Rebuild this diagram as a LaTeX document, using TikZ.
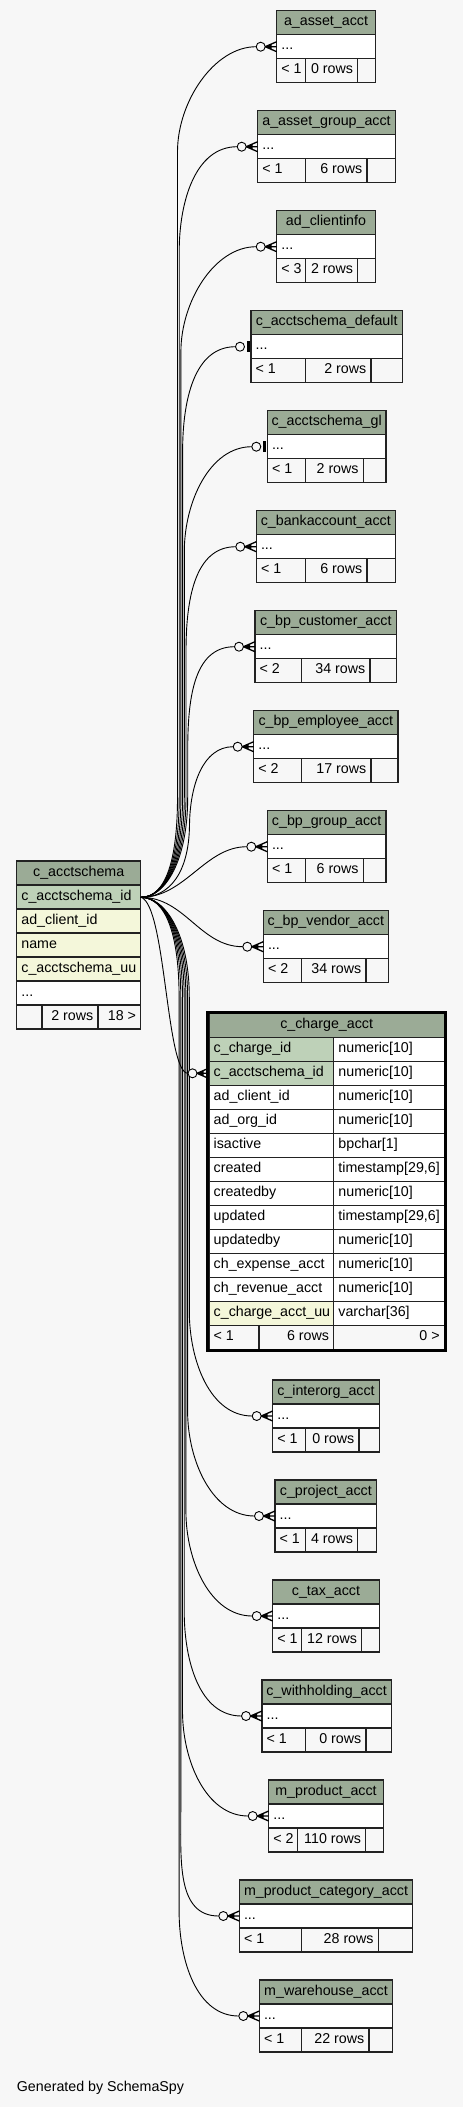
\documentclass[tikz,border=0pt]{standalone}
\usepackage{fontspec}
\setmainfont{Liberation Sans}
\usetikzlibrary{calc}
\definecolor{bgc}{HTML}{F7F7F7}
\definecolor{hdrc}{HTML}{9BAB96}
\definecolor{pkc}{HTML}{BED1B8}
\definecolor{idxc}{HTML}{F4F7DA}
\definecolor{linec}{HTML}{222222}
\newcommand\fs{\fontsize{14.25pt}{17pt}\selectfont}
\newcommand\tsz{timestamp[29,6]}
\tikzset{
 cellb/.style={draw=linec, line width=1.1pt},
 txt/.style={anchor=base west, inner sep=0pt, font=\fs},
 rtxt/.style={anchor=base east, inner sep=0pt, font=\fs},
 ttl/.style={anchor=base, inner sep=0pt, font=\fs},
 conn/.style={draw=black, line width=0.9pt},
 crowl/.style={draw=black, line width=1.3pt},
 thickb/.style={draw=black, line width=2.6pt},
}
% name, title, x1, x2, top, div1, div2, footer-left, rows
\newcommand\stab[9]{%
 \fill[hdrc] (#3,#5) rectangle (#4,{#5+24});
 \fill[white] (#3,{#5+24}) rectangle (#4,{#5+48});
 \fill[bgc] (#3,{#5+48}) rectangle (#4,{#5+72});
 \draw[cellb] (#3,#5) rectangle (#4,{#5+72});
 \draw[cellb] (#3,{#5+24}) -- (#4,{#5+24}) (#3,{#5+48}) -- (#4,{#5+48})
   (#6,{#5+48}) -- (#6,{#5+72}) (#7,{#5+48}) -- (#7,{#5+72});
 \node[ttl] (#1) at ({(#3+#4)/2},{#5+15.2}) {#2};
 \node[txt] (#1-r) at ({#3+4.5},{#5+39.2}) {...};
 \node[txt] (#1-f) at ({#3+4.5},{#5+63.2}) {#8};
 \node[rtxt] (#1-n) at ({#7-4.5},{#5+63.2}) {#9};
 \coordinate (#1-w) at (#3,{#5+36});
}
% name, xv, dir (-1 above, 1 below), end offset
\newcommand\fconn[4]{%
 \coordinate (#1-e) at ($(#1-w)+(#4,0)$);
 \draw[conn] let \p1=(#1-e) in (pk) .. controls (166,897.3) and (#2,{897.3+(#3)*38}) .. (#2,{897.3+(#3)*100})
   -- ({#2pt},{\y1+(#3)*105pt}) .. controls ({#2pt},{\y1+(#3)*55pt}) and ({\x1-42pt},\y1) .. (#1-e);
}
\newcommand\crowat[1]{%
 \draw[conn,fill=bgc] ($(#1-w)+(-16,0)$) circle[radius=4.5];
 \draw[crowl] ($(#1-w)+(-11.5,0)$) -- ($(#1-w)+(0,-5)$)
   ($(#1-w)+(-11.5,0)$) -- (#1-w)
   ($(#1-w)+(-11.5,0)$) -- ($(#1-w)+(0,5)$);
 \fill ($(#1-w)+(-11.5,0)$) -- ($(#1-w)+(-5,-2.6)$) -- ($(#1-w)+(-5,2.6)$) -- cycle;
}
\newcommand\teeat[1]{%
 \draw[conn,fill=bgc] ($(#1-w)+(-11,0)$) circle[radius=4.5];
 \fill ($(#1-w)+(-4.5,-5.5)$) rectangle ($(#1-w)+(-1.5,5.5)$);
}
\begin{document}
\begin{tikzpicture}[x=1pt,y=-1pt]
\fill[bgc] (0,0) rectangle (463,2107);
\useasboundingbox (0,0) rectangle (463,2107);

% ---------- child tables ----------
\stab{aasset}{a\_asset\_acct}{276.7}{375.3}{10.7}{305.7}{357.7}{< 1}{0 rows}
\stab{aassetgroup}{a\_asset\_group\_acct}{257.7}{395.3}{110.7}{305.7}{367}{< 1}{6 rows}
\stab{adclientinfo}{ad\_clientinfo}{276.7}{375.3}{210.7}{305.7}{357.7}{< 3}{2 rows}
\stab{asdefault}{c\_acctschema\_default}{251}{402.3}{310.7}{305.7}{371}{< 1}{2 rows}
\stab{asgl}{c\_acctschema\_gl}{267.3}{386}{410.7}{305.7}{363.3}{< 1}{2 rows}
\stab{bankacct}{c\_bankaccount\_acct}{256.3}{395.3}{510.7}{305.7}{367}{< 1}{6 rows}
\stab{bpcust}{c\_bp\_customer\_acct}{255}{396.7}{610.7}{301.7}{370}{< 2}{34 rows}
\stab{bpemp}{c\_bp\_employee\_acct}{253.7}{398}{710.7}{301.7}{371}{< 2}{17 rows}
\stab{bpgroup}{c\_bp\_group\_acct}{267.3}{386}{810.7}{305.7}{363.3}{< 1}{6 rows}
\stab{bpvendor}{c\_bp\_vendor\_acct}{263.3}{388.3}{910.7}{301.7}{366}{< 2}{34 rows}
\stab{interorg}{c\_interorg\_acct}{272.7}{379.3}{1380}{305.7}{359}{< 1}{0 rows}
\stab{project}{c\_project\_acct}{275}{376.7}{1480}{305.7}{357.7}{< 1}{4 rows}
\stab{tax}{c\_tax\_acct}{272.7}{379.3}{1580}{301.7}{361.7}{< 1}{12 rows}
\stab{withholding}{c\_withholding\_acct}{262}{391.3}{1680}{305.7}{366}{< 1}{0 rows}
\stab{mproduct}{m\_product\_acct}{268.7}{383.3}{1780}{297.7}{365.7}{< 2}{110 rows}
\stab{mprodcat}{m\_product\_category\_acct}{239.3}{412.7}{1880}{301.7}{378.3}{< 1}{28 rows}
\stab{mwarehouse}{m\_warehouse\_acct}{259.3}{392.7}{1980}{301.7}{369}{< 1}{22 rows}

% ---------- c_acctschema ----------
\fill[hdrc] (16.7,861) rectangle (140.7,885);
\fill[pkc] (16.7,885) rectangle (140.7,909);
\fill[idxc] (16.7,909) rectangle (140.7,981);
\fill[white] (16.7,981) rectangle (140.7,1005);
\fill[bgc] (16.7,1005) rectangle (140.7,1029);
\draw[cellb] (16.7,861) rectangle (140.7,1029);
\foreach \yy in {885,909,933,957,981,1005} \draw[cellb] (16.7,\yy) -- (140.7,\yy);
\draw[cellb] (42,1005) -- (42,1029) (98,1005) -- (98,1029);
\node[ttl] (acct) at (78.7,876.2) {c\_acctschema};
\node[txt] (acct-1) at (21.2,900.2) {c\_acctschema\_id};
\node[txt] (acct-2) at (21.2,924.2) {ad\_client\_id};
\node[txt] (acct-3) at (21.2,948.2) {name};
\node[txt] (acct-4) at (21.2,972.2) {c\_acctschema\_uu};
\node[txt] (acct-5) at (21.2,996.2) {...};
\node[rtxt] (acct-rows) at (93.5,1020.2) {2 rows};
\node[rtxt] (acct-ref) at (136.2,1020.2) {18 >};
\coordinate (pk) at (141,897.3);

% ---------- c_charge_acct ----------
\fill[hdrc] (209,1013.3) rectangle (444.3,1037.3);
\foreach \nm/\ty/\fc [count=\i from 0] in {
 c\_charge\_id/numeric[10]/pkc,
 c\_acctschema\_id/numeric[10]/pkc,
 ad\_client\_id/numeric[10]/white,
 ad\_org\_id/numeric[10]/white,
 isactive/bpchar[1]/white,
 created/\tsz/white,
 createdby/numeric[10]/white,
 updated/\tsz/white,
 updatedby/numeric[10]/white,
 ch\_expense\_acct/numeric[10]/white,
 ch\_revenue\_acct/numeric[10]/white,
 c\_charge\_acct\_uu/varchar[36]/idxc}{
 \fill[\fc] (209,{1037.3+24*\i}) rectangle (333.7,{1061.3+24*\i});
 \fill[white] (333.7,{1037.3+24*\i}) rectangle (444.3,{1061.3+24*\i});
 \draw[cellb] (209,{1037.3+24*\i}) -- (444.3,{1037.3+24*\i});
 \node[txt] (cc-n\i) at (213.5,{1052.5+24*\i}) {\nm};
 \node[txt] (cc-t\i) at (338.2,{1052.5+24*\i}) {\ty};
}
\fill[bgc] (209,1325.3) rectangle (444.3,1349.3);
\draw[cellb] (209,1013.3) rectangle (444.3,1349.3);
\draw[cellb] (209,1325.3) -- (444.3,1325.3) (333.7,1037.3) -- (333.7,1349.3) (259,1325.3) -- (259,1349.3);
\draw[thickb] (207.4,1012.4) rectangle (445.2,1350.2);
\node[ttl] (charge) at (326.65,1028.5) {c\_charge\_acct};
\node[txt] (charge-f) at (213.5,1340.5) {< 1};
\node[rtxt] (charge-rows) at (329.2,1340.5) {6 rows};
\node[rtxt] (charge-ref) at (439.8,1340.5) {0 >};
\coordinate (charge-w) at (208.5,1073.3);

% ---------- connectors ----------
\fconn{aasset}{177.5}{-1}{-20.5}
\fconn{aassetgroup}{179.2}{-1}{-20.5}
\fconn{adclientinfo}{180.9}{-1}{-20.5}
\fconn{asdefault}{182.6}{-1}{-15.5}
\fconn{asgl}{184.3}{-1}{-15.5}
\fconn{bankacct}{186}{-1}{-20.5}
\fconn{bpcust}{187.7}{-1}{-20.5}
\coordinate (bpemp-e) at ($(bpemp-w)+(-20.5,0)$);
\draw[conn] (pk) .. controls (170,897.3) and (189,872) .. (189.5,825) .. controls (190,785) and (203,746.7) .. (bpemp-e);
\coordinate (bpgroup-e) at ($(bpgroup-w)+(-20.5,0)$);
\draw[conn] (pk) .. controls (185,897.3) and (205,846.7) .. (bpgroup-e);
\coordinate (bpvendor-e) at ($(bpvendor-w)+(-20.5,0)$);
\draw[conn] (pk) .. controls (185,897.3) and (200,946.7) .. (bpvendor-e);
\coordinate (charge-e) at ($(charge-w)+(-20.5,0)$);
\draw[conn] (pk) .. controls (166,905) and (166,1073.3) .. (charge-e);
\fconn{interorg}{189.3}{1}{-20.5}
\fconn{project}{187.6}{1}{-20.5}
\fconn{tax}{185.9}{1}{-20.5}
\fconn{withholding}{184.2}{1}{-20.5}
\fconn{mproduct}{182.5}{1}{-20.5}
\fconn{mprodcat}{180.8}{1}{-20.5}
\fconn{mwarehouse}{179.1}{1}{-20.5}

% ---------- end markers ----------
\foreach \t in {aasset,aassetgroup,adclientinfo,bankacct,bpcust,bpemp,bpgroup,bpvendor,charge,interorg,project,tax,withholding,mproduct,mprodcat,mwarehouse}{\crowat{\t}}
\teeat{asdefault}
\teeat{asgl}

\node[txt] (gen) at (16.7,2091) {Generated by SchemaSpy};
\end{tikzpicture}
\end{document}
